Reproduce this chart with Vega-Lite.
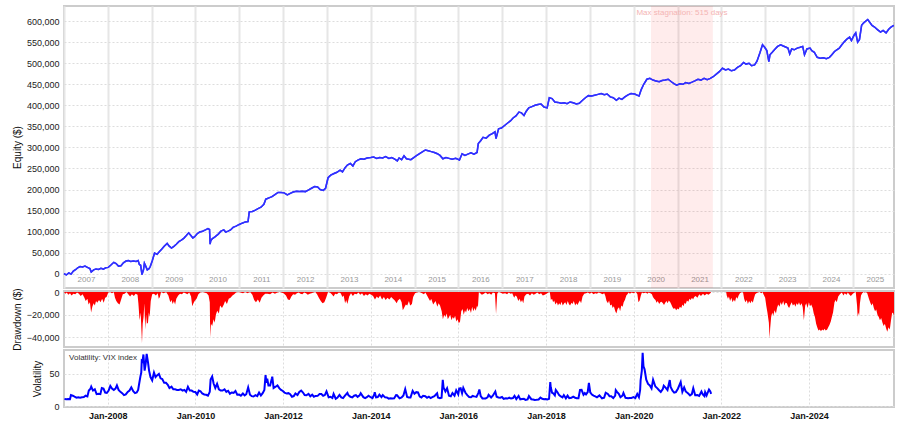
{
"$schema": "https://vega.github.io/schema/vega-lite/v6.json",
"background": "white",
"padding": {"left": 11, "top": 5, "right": 6, "bottom": 2},
"spacing": 3,
"bounds": "flush",
"config": {
  "font": "Liberation Sans",
  "view": {"stroke": "#cccccc", "strokeWidth": 2},
  "axis": {"labelFontSize": 9, "labelColor": "#222", "titleFontSize": 10, "titleFontWeight": "normal", "titleColor": "#111", "ticks": false, "domain": false, "gridColor": "#dddddd", "gridDash": [2, 2]}
},
"datasets": {
"stag": [{"start": "2020-05-25", "end": "2021-10-22", "mid": "2021-02-07", "label": "Max stagnation: 515 days"}],
"equity": [
{"d":"2007-01-01","v":0},{"d":"2007-01-20","v":-3000},{"d":"2007-02-10","v":2000},{"d":"2007-03-01","v":-1000},{"d":"2007-03-20","v":6000},{"d":"2007-04-10","v":10000},{"d":"2007-04-25","v":14000},{"d":"2007-05-15","v":17000},{"d":"2007-06-05","v":16000},{"d":"2007-06-25","v":18000},{"d":"2007-07-15","v":15000},{"d":"2007-08-05","v":12000},{"d":"2007-08-16","v":4000},{"d":"2007-09-05","v":9000},{"d":"2007-09-25","v":11000},{"d":"2007-10-15","v":10000},{"d":"2007-11-05","v":13000},{"d":"2007-11-25","v":11000},{"d":"2007-12-15","v":14000},
{"d":"2008-01-05","v":15000},{"d":"2008-01-25","v":20000},{"d":"2008-02-20","v":27000},{"d":"2008-03-10","v":24000},{"d":"2008-03-30","v":18000},{"d":"2008-04-20","v":19000},{"d":"2008-05-10","v":26000},{"d":"2008-06-01","v":30000},{"d":"2008-06-20","v":31000},{"d":"2008-07-10","v":29000},{"d":"2008-08-01","v":30000},{"d":"2008-08-25","v":29000},{"d":"2008-09-10","v":31000},{"d":"2008-09-20","v":22000},{"d":"2008-10-01","v":20000},{"d":"2008-10-12","v":-2000},{"d":"2008-10-25","v":10000},{"d":"2008-11-01","v":25000},{"d":"2008-11-12","v":18000},{"d":"2008-11-25","v":9000},{"d":"2008-12-10","v":12000},{"d":"2008-12-20","v":17000},
{"d":"2009-01-05","v":30000},{"d":"2009-01-25","v":49000},{"d":"2009-02-15","v":46000},{"d":"2009-03-05","v":52000},{"d":"2009-03-25","v":58000},{"d":"2009-04-15","v":65000},{"d":"2009-05-10","v":72000},{"d":"2009-05-25","v":66000},{"d":"2009-06-15","v":61000},{"d":"2009-07-05","v":65000},{"d":"2009-07-25","v":70000},{"d":"2009-08-15","v":76000},{"d":"2009-09-05","v":80000},{"d":"2009-09-25","v":84000},{"d":"2009-10-15","v":90000},{"d":"2009-11-05","v":97000},{"d":"2009-11-20","v":92000},{"d":"2009-12-10","v":85000},{"d":"2009-12-25","v":88000},
{"d":"2010-01-15","v":95000},{"d":"2010-02-05","v":99000},{"d":"2010-03-01","v":101000},{"d":"2010-03-25","v":104000},{"d":"2010-04-15","v":107000},{"d":"2010-04-28","v":105000},{"d":"2010-05-03","v":70000},{"d":"2010-05-08","v":78000},{"d":"2010-05-20","v":83000},{"d":"2010-06-15","v":88000},{"d":"2010-07-10","v":94000},{"d":"2010-08-01","v":101000},{"d":"2010-08-25","v":104000},{"d":"2010-09-10","v":99000},{"d":"2010-09-30","v":101000},{"d":"2010-10-20","v":104000},{"d":"2010-11-10","v":110000},{"d":"2010-12-05","v":113000},
{"d":"2011-01-01","v":117000},{"d":"2011-01-25","v":120000},{"d":"2011-02-20","v":123000},{"d":"2011-03-15","v":124000},{"d":"2011-03-25","v":147000},{"d":"2011-04-20","v":148000},{"d":"2011-05-15","v":151000},{"d":"2011-06-10","v":155000},{"d":"2011-07-01","v":158000},{"d":"2011-07-25","v":165000},{"d":"2011-08-10","v":177000},{"d":"2011-09-05","v":180000},{"d":"2011-10-01","v":183000},{"d":"2011-10-25","v":188000},{"d":"2011-11-20","v":193000},{"d":"2011-12-15","v":193000},
{"d":"2012-01-10","v":192000},{"d":"2012-02-05","v":187000},{"d":"2012-03-01","v":191000},{"d":"2012-03-25","v":194000},{"d":"2012-04-20","v":196000},{"d":"2012-05-15","v":195000},{"d":"2012-06-10","v":196000},{"d":"2012-07-05","v":195000},{"d":"2012-08-01","v":199000},{"d":"2012-08-25","v":203000},{"d":"2012-09-20","v":207000},{"d":"2012-10-15","v":206000},{"d":"2012-11-05","v":200000},{"d":"2012-12-01","v":198000},{"d":"2012-12-20","v":203000},
{"d":"2013-01-10","v":228000},{"d":"2013-02-01","v":234000},{"d":"2013-03-01","v":238000},{"d":"2013-03-25","v":241000},{"d":"2013-04-20","v":246000},{"d":"2013-05-10","v":242000},{"d":"2013-06-01","v":252000},{"d":"2013-06-20","v":258000},{"d":"2013-07-15","v":262000},{"d":"2013-08-05","v":256000},{"d":"2013-08-25","v":266000},{"d":"2013-09-15","v":270000},{"d":"2013-10-10","v":273000},{"d":"2013-11-05","v":272000},{"d":"2013-12-01","v":275000},
{"d":"2014-01-01","v":276000},{"d":"2014-01-25","v":277000},{"d":"2014-02-20","v":274000},{"d":"2014-03-15","v":276000},{"d":"2014-04-10","v":275000},{"d":"2014-05-05","v":278000},{"d":"2014-06-01","v":274000},{"d":"2014-06-25","v":276000},{"d":"2014-07-20","v":272000},{"d":"2014-08-10","v":268000},{"d":"2014-08-25","v":275000},{"d":"2014-09-15","v":271000},{"d":"2014-10-05","v":280000},{"d":"2014-10-25","v":273000},{"d":"2014-12-01","v":271000},{"d":"2014-12-25","v":276000},
{"d":"2015-01-20","v":281000},{"d":"2015-02-15","v":286000},{"d":"2015-03-10","v":290000},{"d":"2015-04-01","v":294000},{"d":"2015-04-25","v":292000},{"d":"2015-05-20","v":290000},{"d":"2015-06-15","v":288000},{"d":"2015-07-10","v":285000},{"d":"2015-08-01","v":281000},{"d":"2015-08-25","v":273000},{"d":"2015-09-20","v":276000},{"d":"2015-10-15","v":274000},{"d":"2015-11-10","v":272000},{"d":"2015-12-10","v":274000},
{"d":"2016-01-10","v":270000},{"d":"2016-02-01","v":285000},{"d":"2016-02-25","v":281000},{"d":"2016-03-20","v":284000},{"d":"2016-04-15","v":287000},{"d":"2016-05-10","v":284000},{"d":"2016-06-05","v":288000},{"d":"2016-06-15","v":309000},{"d":"2016-07-05","v":316000},{"d":"2016-07-25","v":324000},{"d":"2016-08-20","v":322000},{"d":"2016-09-15","v":329000},{"d":"2016-10-10","v":333000},{"d":"2016-11-01","v":337000},{"d":"2016-11-10","v":321000},{"d":"2016-12-01","v":344000},{"d":"2016-12-25","v":346000},
{"d":"2017-01-20","v":352000},{"d":"2017-02-15","v":358000},{"d":"2017-03-10","v":363000},{"d":"2017-04-01","v":370000},{"d":"2017-04-25","v":375000},{"d":"2017-05-20","v":384000},{"d":"2017-06-10","v":382000},{"d":"2017-07-01","v":376000},{"d":"2017-07-20","v":386000},{"d":"2017-08-10","v":394000},{"d":"2017-09-05","v":397000},{"d":"2017-10-01","v":400000},{"d":"2017-10-25","v":402000},{"d":"2017-11-20","v":403000},{"d":"2017-12-15","v":396000},
{"d":"2018-01-10","v":394000},{"d":"2018-01-28","v":418000},{"d":"2018-02-20","v":416000},{"d":"2018-03-15","v":408000},{"d":"2018-04-10","v":407000},{"d":"2018-05-05","v":405000},{"d":"2018-06-01","v":406000},{"d":"2018-06-25","v":404000},{"d":"2018-07-20","v":408000},{"d":"2018-08-15","v":406000},{"d":"2018-09-10","v":403000},{"d":"2018-10-05","v":405000},{"d":"2018-11-01","v":412000},{"d":"2018-11-25","v":418000},{"d":"2018-12-20","v":423000},
{"d":"2019-01-15","v":422000},{"d":"2019-02-10","v":424000},{"d":"2019-03-10","v":426000},{"d":"2019-04-05","v":428000},{"d":"2019-05-01","v":425000},{"d":"2019-05-25","v":427000},{"d":"2019-06-20","v":420000},{"d":"2019-07-15","v":418000},{"d":"2019-08-10","v":412000},{"d":"2019-09-01","v":417000},{"d":"2019-09-25","v":414000},{"d":"2019-10-20","v":420000},{"d":"2019-11-15","v":425000},{"d":"2019-12-10","v":428000},
{"d":"2020-01-10","v":427000},{"d":"2020-02-15","v":422000},{"d":"2020-03-05","v":438000},{"d":"2020-03-25","v":450000},{"d":"2020-04-20","v":462000},{"d":"2020-05-15","v":464000},{"d":"2020-06-10","v":460000},{"d":"2020-07-05","v":458000},{"d":"2020-08-01","v":456000},{"d":"2020-08-25","v":459000},{"d":"2020-09-20","v":460000},{"d":"2020-10-15","v":462000},{"d":"2020-11-10","v":456000},{"d":"2020-12-05","v":451000},{"d":"2020-12-25","v":448000},
{"d":"2021-01-20","v":451000},{"d":"2021-02-15","v":450000},{"d":"2021-03-10","v":454000},{"d":"2021-04-05","v":452000},{"d":"2021-05-01","v":455000},{"d":"2021-05-25","v":458000},{"d":"2021-06-20","v":462000},{"d":"2021-07-15","v":460000},{"d":"2021-08-10","v":464000},{"d":"2021-09-05","v":461000},{"d":"2021-10-01","v":464000},{"d":"2021-10-25","v":468000},{"d":"2021-11-20","v":474000},{"d":"2021-12-15","v":480000},
{"d":"2022-01-10","v":488000},{"d":"2022-02-05","v":484000},{"d":"2022-03-01","v":486000},{"d":"2022-03-25","v":482000},{"d":"2022-04-20","v":484000},{"d":"2022-05-15","v":490000},{"d":"2022-06-10","v":494000},{"d":"2022-07-05","v":502000},{"d":"2022-07-25","v":498000},{"d":"2022-08-20","v":500000},{"d":"2022-09-10","v":494000},{"d":"2022-10-05","v":496000},{"d":"2022-10-25","v":505000},{"d":"2022-11-20","v":526000},{"d":"2022-12-10","v":544000},{"d":"2022-12-28","v":538000},
{"d":"2023-01-15","v":530000},{"d":"2023-02-01","v":504000},{"d":"2023-02-10","v":520000},{"d":"2023-03-01","v":526000},{"d":"2023-03-25","v":534000},{"d":"2023-04-15","v":540000},{"d":"2023-05-10","v":544000},{"d":"2023-06-01","v":541000},{"d":"2023-06-25","v":538000},{"d":"2023-07-10","v":536000},{"d":"2023-07-25","v":522000},{"d":"2023-08-10","v":534000},{"d":"2023-09-01","v":532000},{"d":"2023-09-25","v":536000},{"d":"2023-10-20","v":538000},{"d":"2023-11-10","v":540000},{"d":"2023-11-25","v":520000},{"d":"2023-12-15","v":534000},
{"d":"2024-01-10","v":536000},{"d":"2024-01-25","v":530000},{"d":"2024-02-15","v":526000},{"d":"2024-03-10","v":514000},{"d":"2024-04-05","v":512000},{"d":"2024-05-01","v":513000},{"d":"2024-05-25","v":511000},{"d":"2024-06-20","v":514000},{"d":"2024-07-10","v":520000},{"d":"2024-08-01","v":528000},{"d":"2024-08-20","v":532000},{"d":"2024-09-10","v":536000},{"d":"2024-10-01","v":544000},{"d":"2024-10-25","v":552000},{"d":"2024-11-15","v":558000},{"d":"2024-12-05","v":562000},{"d":"2024-12-20","v":554000},
{"d":"2025-01-10","v":566000},{"d":"2025-01-25","v":572000},{"d":"2025-02-10","v":550000},{"d":"2025-02-25","v":556000},{"d":"2025-03-15","v":590000},{"d":"2025-04-01","v":596000},{"d":"2025-05-05","v":604000},{"d":"2025-05-20","v":598000},{"d":"2025-06-10","v":590000},{"d":"2025-07-01","v":586000},{"d":"2025-07-25","v":580000},{"d":"2025-08-20","v":574000},{"d":"2025-09-10","v":578000},{"d":"2025-10-05","v":572000},{"d":"2025-10-25","v":580000},{"d":"2025-11-15","v":586000},{"d":"2025-12-08","v":590000}
],
"dd": [
{"d":"2007-01-01","v":0},{"d":"2007-01-12","v":-1500},{"d":"2007-01-25","v":-500},{"d":"2007-02-05","v":-2500},{"d":"2007-02-20","v":-1000},{"d":"2007-03-05","v":-3000},{"d":"2007-03-20","v":-1500},{"d":"2007-04-05","v":-2000},{"d":"2007-04-20","v":-500},{"d":"2007-05-05","v":-1500},{"d":"2007-05-20","v":-3500},{"d":"2007-06-05","v":-2000},{"d":"2007-06-20","v":-5000},{"d":"2007-07-01","v":-8000},{"d":"2007-07-15","v":-6000},{"d":"2007-07-25","v":-11000},{"d":"2007-08-05","v":-9000},{"d":"2007-08-15","v":-18000},{"d":"2007-08-25","v":-13000},{"d":"2007-09-05","v":-10000},{"d":"2007-09-15","v":-12000},{"d":"2007-09-25","v":-8000},{"d":"2007-10-05","v":-9500},{"d":"2007-10-20","v":-7000},{"d":"2007-11-01","v":-9000},{"d":"2007-11-15","v":-6000},{"d":"2007-11-28","v":-9500},{"d":"2007-12-10","v":-5000},{"d":"2007-12-22","v":-4500},
{"d":"2008-01-05","v":-500},{"d":"2008-01-20","v":0},{"d":"2008-02-05","v":-1000},{"d":"2008-02-20","v":0},{"d":"2008-03-01","v":-5000},{"d":"2008-03-12","v":-8000},{"d":"2008-03-25","v":-10000},{"d":"2008-04-08","v":-11000},{"d":"2008-04-20","v":-7000},{"d":"2008-05-05","v":-2000},{"d":"2008-05-20","v":-1500},{"d":"2008-06-05","v":0},{"d":"2008-06-20","v":-2000},{"d":"2008-07-05","v":-4000},{"d":"2008-07-20","v":-2000},{"d":"2008-08-05","v":-3500},{"d":"2008-08-20","v":-1500},{"d":"2008-09-05","v":-2500},{"d":"2008-09-12","v":-10000},{"d":"2008-09-22","v":-25000},{"d":"2008-10-01","v":-18000},{"d":"2008-10-08","v":-35000},{"d":"2008-10-12","v":-45000},{"d":"2008-10-18","v":-28000},{"d":"2008-10-25","v":-22000},{"d":"2008-11-01","v":-10000},{"d":"2008-11-08","v":-33000},{"d":"2008-11-15","v":-20000},{"d":"2008-11-22","v":-28000},{"d":"2008-12-01","v":-27000},{"d":"2008-12-08","v":-18000},{"d":"2008-12-15","v":-22000},{"d":"2008-12-24","v":-8000},
{"d":"2009-01-05","v":-2000},{"d":"2009-01-20","v":-1500},{"d":"2009-02-05","v":-3000},{"d":"2009-02-20","v":-1000},{"d":"2009-03-01","v":-6000},{"d":"2009-03-10","v":-4500},{"d":"2009-03-20","v":0},{"d":"2009-04-10","v":-1000},{"d":"2009-05-01","v":0},{"d":"2009-05-20","v":-3000},{"d":"2009-06-05","v":-9000},{"d":"2009-06-15","v":-7000},{"d":"2009-06-25","v":-10500},{"d":"2009-07-05","v":-8000},{"d":"2009-07-15","v":-11000},{"d":"2009-07-25","v":-6000},{"d":"2009-08-10","v":-3000},{"d":"2009-08-25","v":-1500},{"d":"2009-09-10","v":-2000},{"d":"2009-09-25","v":-500},{"d":"2009-10-10","v":-1000},{"d":"2009-10-25","v":-2000},{"d":"2009-11-10","v":-500},{"d":"2009-11-25","v":-4000},{"d":"2009-12-05","v":-12500},{"d":"2009-12-15","v":-10000},{"d":"2009-12-25","v":-8000},
{"d":"2010-01-10","v":-6000},{"d":"2010-01-25","v":-2000},{"d":"2010-02-10","v":-500},{"d":"2010-02-25","v":0},{"d":"2010-03-15","v":-500},{"d":"2010-04-05","v":-1000},{"d":"2010-04-20","v":-3000},{"d":"2010-04-30","v":-9000},{"d":"2010-05-04","v":-40000},{"d":"2010-05-10","v":-28000},{"d":"2010-05-20","v":-30000},{"d":"2010-06-01","v":-24000},{"d":"2010-06-10","v":-27000},{"d":"2010-06-20","v":-20000},{"d":"2010-07-01","v":-16500},{"d":"2010-07-15","v":-19000},{"d":"2010-07-25","v":-12000},{"d":"2010-08-10","v":-14000},{"d":"2010-08-25","v":-11000},{"d":"2010-09-05","v":-8000},{"d":"2010-09-20","v":-10500},{"d":"2010-10-05","v":-6000},{"d":"2010-10-20","v":-5000},{"d":"2010-11-05","v":-3000},{"d":"2010-11-20","v":-2000},{"d":"2010-12-05","v":-500},{"d":"2010-12-20","v":0},
{"d":"2011-01-10","v":-500},{"d":"2011-02-01","v":-1000},{"d":"2011-02-20","v":0},{"d":"2011-03-10","v":-1000},{"d":"2011-04-01","v":0},{"d":"2011-04-20","v":-2500},{"d":"2011-05-05","v":-7000},{"d":"2011-05-20","v":-9000},{"d":"2011-06-05","v":-6500},{"d":"2011-06-20","v":-9500},{"d":"2011-07-05","v":-5000},{"d":"2011-07-20","v":-3000},{"d":"2011-08-05","v":-1500},{"d":"2011-08-25","v":-1500},{"d":"2011-09-15","v":-2000},{"d":"2011-10-05","v":-500},{"d":"2011-10-25","v":-1500},{"d":"2011-11-15","v":-500},{"d":"2011-12-05","v":0},
{"d":"2012-01-05","v":-1000},{"d":"2012-01-25","v":-3000},{"d":"2012-02-10","v":-6500},{"d":"2012-02-25","v":-7000},{"d":"2012-03-10","v":-4000},{"d":"2012-03-25","v":-2000},{"d":"2012-04-10","v":-2500},{"d":"2012-04-25","v":-1000},{"d":"2012-05-10","v":-500},{"d":"2012-05-25","v":-1500},{"d":"2012-06-10","v":-2000},{"d":"2012-06-25","v":-500},{"d":"2012-07-10","v":-1000},{"d":"2012-07-25","v":-2500},{"d":"2012-08-10","v":-1500},{"d":"2012-08-25","v":-1000},{"d":"2012-09-10","v":-500},{"d":"2012-09-25","v":0},{"d":"2012-10-10","v":-2000},{"d":"2012-10-25","v":-5000},{"d":"2012-11-10","v":-8000},{"d":"2012-11-25","v":-10000},{"d":"2012-12-10","v":-9000},{"d":"2012-12-25","v":-5000},
{"d":"2013-01-10","v":0},{"d":"2013-01-25","v":-500},{"d":"2013-02-10","v":-2000},{"d":"2013-02-25","v":-4000},{"d":"2013-03-10","v":-1500},{"d":"2013-03-25","v":-2000},{"d":"2013-04-10","v":-500},{"d":"2013-04-25","v":-1000},{"d":"2013-05-10","v":-4500},{"d":"2013-05-20","v":-3000},{"d":"2013-06-01","v":-10000},{"d":"2013-06-10","v":-7000},{"d":"2013-06-20","v":-10500},{"d":"2013-07-05","v":-4000},{"d":"2013-07-20","v":-1000},{"d":"2013-08-05","v":-3500},{"d":"2013-08-20","v":-1500},{"d":"2013-09-05","v":-2000},{"d":"2013-09-20","v":-500},{"d":"2013-10-05","v":-2500},{"d":"2013-10-20","v":-1000},{"d":"2013-11-05","v":-3500},{"d":"2013-11-20","v":-2000},{"d":"2013-12-05","v":-3000},{"d":"2013-12-20","v":-1500},
{"d":"2014-01-05","v":-2500},{"d":"2014-01-20","v":-3500},{"d":"2014-02-05","v":-6500},{"d":"2014-02-20","v":-4000},{"d":"2014-03-05","v":-5500},{"d":"2014-03-20","v":-3000},{"d":"2014-04-05","v":-6500},{"d":"2014-04-20","v":-4500},{"d":"2014-05-05","v":-7000},{"d":"2014-05-20","v":-5000},{"d":"2014-06-05","v":-6500},{"d":"2014-06-20","v":-4500},{"d":"2014-07-05","v":-6000},{"d":"2014-07-20","v":-7500},{"d":"2014-08-05","v":-10000},{"d":"2014-08-15","v":-7500},{"d":"2014-09-01","v":-6000},{"d":"2014-09-15","v":-9000},{"d":"2014-09-25","v":-16000},{"d":"2014-10-05","v":-14000},{"d":"2014-10-20","v":-11000},{"d":"2014-11-01","v":-12000},{"d":"2014-11-15","v":-8000},{"d":"2014-11-25","v":-12000},{"d":"2014-12-10","v":-10500},{"d":"2014-12-20","v":-4500},
{"d":"2015-01-05","v":-1000},{"d":"2015-01-20","v":-500},{"d":"2015-02-05","v":0},{"d":"2015-02-20","v":-500},{"d":"2015-03-05","v":-1000},{"d":"2015-03-20","v":-2000},{"d":"2015-04-01","v":-500},{"d":"2015-04-15","v":-3000},{"d":"2015-04-25","v":-5000},{"d":"2015-05-10","v":-8000},{"d":"2015-05-20","v":-6000},{"d":"2015-06-05","v":-11000},{"d":"2015-06-15","v":-9500},{"d":"2015-06-25","v":-8000},{"d":"2015-07-10","v":-13000},{"d":"2015-07-20","v":-10000},{"d":"2015-08-01","v":-12000},{"d":"2015-08-15","v":-17000},{"d":"2015-08-25","v":-24000},{"d":"2015-09-05","v":-20000},{"d":"2015-09-15","v":-22000},{"d":"2015-09-25","v":-19000},{"d":"2015-10-05","v":-24000},{"d":"2015-10-15","v":-22000},{"d":"2015-10-25","v":-20000},{"d":"2015-11-05","v":-25000},{"d":"2015-11-15","v":-22000},{"d":"2015-11-25","v":-23500},{"d":"2015-12-05","v":-21000},{"d":"2015-12-15","v":-26000},{"d":"2015-12-25","v":-24000},
{"d":"2016-01-05","v":-27500},{"d":"2016-01-15","v":-26000},{"d":"2016-01-25","v":-17000},{"d":"2016-02-05","v":-15000},{"d":"2016-02-15","v":-20000},{"d":"2016-02-25","v":-16000},{"d":"2016-03-05","v":-18000},{"d":"2016-03-15","v":-14000},{"d":"2016-03-25","v":-17000},{"d":"2016-04-05","v":-15000},{"d":"2016-04-15","v":-18500},{"d":"2016-04-25","v":-13000},{"d":"2016-05-05","v":-17000},{"d":"2016-05-15","v":-14000},{"d":"2016-05-25","v":-16500},{"d":"2016-06-05","v":-12000},{"d":"2016-06-12","v":-13600},{"d":"2016-06-20","v":0},{"d":"2016-07-01","v":-1000},{"d":"2016-07-15","v":-2500},{"d":"2016-08-01","v":-1500},{"d":"2016-08-15","v":-500},{"d":"2016-09-01","v":-2000},{"d":"2016-09-15","v":-1000},{"d":"2016-10-01","v":-2500},{"d":"2016-10-15","v":-500},{"d":"2016-11-01","v":-1000},{"d":"2016-11-10","v":-19400},{"d":"2016-11-20","v":-1500},{"d":"2016-12-01","v":0},{"d":"2016-12-15","v":-500},
{"d":"2017-01-05","v":-1500},{"d":"2017-01-25","v":-1000},{"d":"2017-02-10","v":-2000},{"d":"2017-02-25","v":-500},{"d":"2017-03-10","v":-1500},{"d":"2017-03-25","v":-1000},{"d":"2017-04-10","v":-5000},{"d":"2017-04-20","v":-3000},{"d":"2017-05-01","v":-4000},{"d":"2017-05-15","v":-8000},{"d":"2017-05-25","v":-6000},{"d":"2017-06-05","v":-9000},{"d":"2017-06-15","v":-7000},{"d":"2017-06-25","v":-10000},{"d":"2017-07-05","v":-4000},{"d":"2017-07-20","v":-2000},{"d":"2017-08-05","v":-1500},{"d":"2017-08-20","v":-3000},{"d":"2017-09-05","v":-1000},{"d":"2017-09-20","v":-2500},{"d":"2017-10-05","v":-1500},{"d":"2017-10-20","v":-500},{"d":"2017-11-05","v":-2000},{"d":"2017-11-20","v":-1000},{"d":"2017-12-05","v":-3000},{"d":"2017-12-20","v":-2500},
{"d":"2018-01-05","v":-1500},{"d":"2018-01-20","v":-500},{"d":"2018-02-01","v":0},{"d":"2018-02-10","v":-7000},{"d":"2018-02-20","v":-6000},{"d":"2018-03-01","v":-9000},{"d":"2018-03-10","v":-7500},{"d":"2018-03-20","v":-11000},{"d":"2018-04-01","v":-9000},{"d":"2018-04-10","v":-12000},{"d":"2018-04-20","v":-10000},{"d":"2018-05-01","v":-11500},{"d":"2018-05-10","v":-8500},{"d":"2018-05-20","v":-12000},{"d":"2018-06-01","v":-10000},{"d":"2018-06-10","v":-9000},{"d":"2018-06-20","v":-11500},{"d":"2018-07-01","v":-8000},{"d":"2018-07-10","v":-10500},{"d":"2018-07-20","v":-12000},{"d":"2018-08-01","v":-9500},{"d":"2018-08-10","v":-10500},{"d":"2018-08-20","v":-8000},{"d":"2018-09-01","v":-12000},{"d":"2018-09-10","v":-10000},{"d":"2018-09-20","v":-11500},{"d":"2018-10-01","v":-9000},{"d":"2018-10-10","v":-7500},{"d":"2018-10-20","v":-10000},{"d":"2018-11-01","v":-4000},{"d":"2018-11-15","v":-1500},{"d":"2018-12-01","v":-1000},{"d":"2018-12-15","v":-500},
{"d":"2019-01-01","v":-1500},{"d":"2019-01-15","v":-500},{"d":"2019-02-01","v":-2000},{"d":"2019-02-15","v":-1000},{"d":"2019-03-01","v":-1500},{"d":"2019-03-15","v":-500},{"d":"2019-04-01","v":-1000},{"d":"2019-04-15","v":-2000},{"d":"2019-05-01","v":-1000},{"d":"2019-05-10","v":-3500},{"d":"2019-05-20","v":-8000},{"d":"2019-06-01","v":-10000},{"d":"2019-06-10","v":-7500},{"d":"2019-06-20","v":-12000},{"d":"2019-07-01","v":-11000},{"d":"2019-07-10","v":-14000},{"d":"2019-07-20","v":-12500},{"d":"2019-08-01","v":-17000},{"d":"2019-08-10","v":-19000},{"d":"2019-08-20","v":-15000},{"d":"2019-09-01","v":-13500},{"d":"2019-09-10","v":-17000},{"d":"2019-09-20","v":-12000},{"d":"2019-10-01","v":-13000},{"d":"2019-10-10","v":-9000},{"d":"2019-10-20","v":-7000},{"d":"2019-11-01","v":-3000},{"d":"2019-11-10","v":-2000},{"d":"2019-11-20","v":-500},{"d":"2019-12-01","v":-1500},{"d":"2019-12-15","v":-500},
{"d":"2020-01-01","v":-1000},{"d":"2020-01-10","v":-500},{"d":"2020-01-20","v":0},{"d":"2020-02-01","v":-2000},{"d":"2020-02-10","v":-9000},{"d":"2020-02-20","v":-7500},{"d":"2020-03-01","v":-3000},{"d":"2020-03-10","v":-500},{"d":"2020-03-25","v":-1000},{"d":"2020-04-10","v":-500},{"d":"2020-04-25","v":-1500},{"d":"2020-05-05","v":-500},{"d":"2020-05-20","v":-1000},{"d":"2020-06-01","v":-2000},{"d":"2020-06-10","v":-4500},{"d":"2020-06-20","v":-6000},{"d":"2020-07-01","v":-7000},{"d":"2020-07-10","v":-9500},{"d":"2020-07-20","v":-8000},{"d":"2020-08-01","v":-10500},{"d":"2020-08-10","v":-9000},{"d":"2020-08-20","v":-8500},{"d":"2020-09-01","v":-10000},{"d":"2020-09-10","v":-11500},{"d":"2020-09-20","v":-9500},{"d":"2020-10-01","v":-8000},{"d":"2020-10-10","v":-10000},{"d":"2020-10-20","v":-7500},{"d":"2020-11-01","v":-9000},{"d":"2020-11-10","v":-11000},{"d":"2020-11-20","v":-13500},{"d":"2020-12-01","v":-15000},{"d":"2020-12-10","v":-14000},{"d":"2020-12-20","v":-16000},
{"d":"2021-01-01","v":-14500},{"d":"2021-01-10","v":-15500},{"d":"2021-01-20","v":-13000},{"d":"2021-02-01","v":-14000},{"d":"2021-02-10","v":-11000},{"d":"2021-02-20","v":-12500},{"d":"2021-03-01","v":-9500},{"d":"2021-03-10","v":-10500},{"d":"2021-03-20","v":-7500},{"d":"2021-04-01","v":-8500},{"d":"2021-04-10","v":-6000},{"d":"2021-04-20","v":-7000},{"d":"2021-05-01","v":-5000},{"d":"2021-05-10","v":-6500},{"d":"2021-05-20","v":-4500},{"d":"2021-06-01","v":-3500},{"d":"2021-06-15","v":-5000},{"d":"2021-07-01","v":-2000},{"d":"2021-07-15","v":-3500},{"d":"2021-08-01","v":-1500},{"d":"2021-08-15","v":-3000},{"d":"2021-09-01","v":-1500},{"d":"2021-09-15","v":-2500},{"d":"2021-10-01","v":-1000},{"d":"2021-10-08","v":0},{"d":"2021-12-01","v":0},{"d":"2022-02-10","v":0},
{"d":"2022-02-15","v":-3000},{"d":"2022-02-25","v":-6000},{"d":"2022-03-05","v":-4000},{"d":"2022-03-15","v":-8000},{"d":"2022-03-25","v":-5000},{"d":"2022-04-05","v":-9000},{"d":"2022-04-15","v":-6500},{"d":"2022-04-25","v":-8500},{"d":"2022-05-05","v":-4500},{"d":"2022-05-15","v":-6000},{"d":"2022-05-25","v":-3000},{"d":"2022-06-05","v":-1000},{"d":"2022-06-20","v":0},{"d":"2022-07-01","v":-500},{"d":"2022-07-10","v":-6000},{"d":"2022-07-20","v":-9000},{"d":"2022-08-01","v":-7000},{"d":"2022-08-10","v":-10500},{"d":"2022-08-20","v":-8000},{"d":"2022-09-01","v":-10000},{"d":"2022-09-10","v":-7500},{"d":"2022-09-20","v":-9500},{"d":"2022-10-01","v":-5000},{"d":"2022-10-10","v":-2000},{"d":"2022-10-20","v":-1000},{"d":"2022-11-01","v":-500},{"d":"2022-11-15","v":0},{"d":"2022-12-01","v":-1000},{"d":"2022-12-10","v":0},{"d":"2022-12-20","v":-2500},
{"d":"2023-01-01","v":-5000},{"d":"2023-01-10","v":-12000},{"d":"2023-01-20","v":-18000},{"d":"2023-02-01","v":-27000},{"d":"2023-02-07","v":-41000},{"d":"2023-02-12","v":-32000},{"d":"2023-02-20","v":-22000},{"d":"2023-03-01","v":-18000},{"d":"2023-03-10","v":-21000},{"d":"2023-03-20","v":-16000},{"d":"2023-04-01","v":-19000},{"d":"2023-04-10","v":-14000},{"d":"2023-04-20","v":-11000},{"d":"2023-05-01","v":-13000},{"d":"2023-05-10","v":-9000},{"d":"2023-05-20","v":-11500},{"d":"2023-06-01","v":-8000},{"d":"2023-06-10","v":-12000},{"d":"2023-06-20","v":-9500},{"d":"2023-07-01","v":-10000},{"d":"2023-07-10","v":-12500},{"d":"2023-07-20","v":-14000},{"d":"2023-08-01","v":-11000},{"d":"2023-08-10","v":-9000},{"d":"2023-08-20","v":-12000},{"d":"2023-09-01","v":-10500},{"d":"2023-09-10","v":-13000},{"d":"2023-09-20","v":-10000},{"d":"2023-10-01","v":-11500},{"d":"2023-10-10","v":-9000},{"d":"2023-10-20","v":-12000},{"d":"2023-11-01","v":-10000},{"d":"2023-11-10","v":-13500},{"d":"2023-11-20","v":-25000},{"d":"2023-12-01","v":-12000},{"d":"2023-12-10","v":-10000},{"d":"2023-12-20","v":-14000},
{"d":"2024-01-01","v":-9000},{"d":"2024-01-10","v":-12500},{"d":"2024-01-20","v":-11000},{"d":"2024-02-01","v":-14000},{"d":"2024-02-10","v":-19000},{"d":"2024-02-20","v":-22000},{"d":"2024-03-01","v":-28000},{"d":"2024-03-10","v":-31000},{"d":"2024-03-20","v":-34000},{"d":"2024-04-01","v":-33000},{"d":"2024-04-10","v":-34500},{"d":"2024-04-20","v":-33000},{"d":"2024-05-01","v":-34000},{"d":"2024-05-10","v":-32500},{"d":"2024-05-20","v":-34000},{"d":"2024-06-01","v":-33000},{"d":"2024-06-10","v":-31000},{"d":"2024-06-20","v":-29000},{"d":"2024-07-01","v":-26000},{"d":"2024-07-10","v":-22000},{"d":"2024-07-20","v":-18000},{"d":"2024-08-01","v":-9000},{"d":"2024-08-10","v":-7000},{"d":"2024-08-20","v":-9000},{"d":"2024-09-01","v":-4000},{"d":"2024-09-15","v":-2000},{"d":"2024-10-01","v":-500},{"d":"2024-10-15","v":-3000},{"d":"2024-10-25","v":-1000},{"d":"2024-11-10","v":-2500},{"d":"2024-11-20","v":-500},{"d":"2024-12-01","v":-2000},{"d":"2024-12-15","v":-3500},
{"d":"2025-01-01","v":-1500},{"d":"2025-01-15","v":-500},{"d":"2025-01-25","v":0},{"d":"2025-02-05","v":-12000},{"d":"2025-02-10","v":-22000},{"d":"2025-02-15","v":-18000},{"d":"2025-02-22","v":-21000},{"d":"2025-03-01","v":-10000},{"d":"2025-03-10","v":-3000},{"d":"2025-03-20","v":-1000},{"d":"2025-04-01","v":0},{"d":"2025-04-10","v":-500},{"d":"2025-04-20","v":0},{"d":"2025-05-01","v":-1000},{"d":"2025-05-15","v":-6000},{"d":"2025-05-25","v":-9000},{"d":"2025-06-05","v":-12000},{"d":"2025-06-15","v":-10000},{"d":"2025-06-25","v":-14000},{"d":"2025-07-05","v":-17000},{"d":"2025-07-15","v":-15500},{"d":"2025-07-25","v":-20000},{"d":"2025-08-05","v":-22000},{"d":"2025-08-15","v":-25000},{"d":"2025-08-25","v":-23000},{"d":"2025-09-05","v":-27000},{"d":"2025-09-15","v":-30000},{"d":"2025-09-25","v":-28000},{"d":"2025-10-05","v":-32000},{"d":"2025-10-15","v":-35000},{"d":"2025-10-25","v":-31000},{"d":"2025-11-05","v":-33000},{"d":"2025-11-15","v":-25000},{"d":"2025-11-25","v":-18000},{"d":"2025-12-05","v":-19000},{"d":"2025-12-10","v":-21000}
],
"vix": [
{"d":"2007-01-05","v":11},{"d":"2007-01-20","v":10.5},{"d":"2007-02-05","v":10.8},{"d":"2007-02-20","v":10.5},{"d":"2007-02-28","v":17},{"d":"2007-03-15","v":16},{"d":"2007-03-30","v":14.5},{"d":"2007-04-15","v":13},{"d":"2007-04-30","v":13.5},{"d":"2007-05-15","v":13},{"d":"2007-05-31","v":13.5},{"d":"2007-06-15","v":14},{"d":"2007-06-30","v":16},{"d":"2007-07-15","v":15},{"d":"2007-07-27","v":24},{"d":"2007-08-10","v":27},{"d":"2007-08-16","v":30},{"d":"2007-08-31","v":24},{"d":"2007-09-15","v":26},{"d":"2007-09-30","v":18.5},{"d":"2007-10-15","v":19},{"d":"2007-10-31","v":18.5},{"d":"2007-11-12","v":28},{"d":"2007-11-26","v":27},{"d":"2007-12-10","v":21},{"d":"2007-12-24","v":20.5},
{"d":"2008-01-08","v":24},{"d":"2008-01-22","v":31},{"d":"2008-02-05","v":27},{"d":"2008-02-20","v":25},{"d":"2008-03-05","v":27},{"d":"2008-03-17","v":32},{"d":"2008-03-31","v":25},{"d":"2008-04-15","v":22},{"d":"2008-04-30","v":20},{"d":"2008-05-15","v":17},{"d":"2008-05-30","v":18},{"d":"2008-06-15","v":22},{"d":"2008-06-30","v":24},{"d":"2008-07-15","v":29},{"d":"2008-07-31","v":23},{"d":"2008-08-15","v":20},{"d":"2008-08-29","v":21},{"d":"2008-09-10","v":25},{"d":"2008-09-17","v":33},{"d":"2008-09-29","v":46},{"d":"2008-10-06","v":52},{"d":"2008-10-10","v":70},{"d":"2008-10-16","v":69},{"d":"2008-10-24","v":80},{"d":"2008-11-03","v":55},{"d":"2008-11-12","v":66},{"d":"2008-11-20","v":81},{"d":"2008-12-01","v":68},{"d":"2008-12-10","v":55},{"d":"2008-12-22","v":45},
{"d":"2009-01-05","v":40},{"d":"2009-01-20","v":52},{"d":"2009-02-02","v":45},{"d":"2009-02-17","v":48},{"d":"2009-03-02","v":50},{"d":"2009-03-16","v":43},{"d":"2009-03-30","v":42},{"d":"2009-04-15","v":36},{"d":"2009-04-30","v":36},{"d":"2009-05-15","v":33},{"d":"2009-05-29","v":28},{"d":"2009-06-15","v":30},{"d":"2009-06-30","v":26},{"d":"2009-07-15","v":26},{"d":"2009-07-31","v":25},{"d":"2009-08-14","v":25},{"d":"2009-08-31","v":26},{"d":"2009-09-15","v":24},{"d":"2009-09-30","v":25},{"d":"2009-10-15","v":22},{"d":"2009-10-30","v":30},{"d":"2009-11-15","v":24},{"d":"2009-11-30","v":24},{"d":"2009-12-15","v":22},{"d":"2009-12-31","v":21.7},
{"d":"2010-01-15","v":18},{"d":"2010-01-29","v":24},{"d":"2010-02-12","v":23},{"d":"2010-02-26","v":19.5},{"d":"2010-03-15","v":18},{"d":"2010-03-31","v":17.5},{"d":"2010-04-15","v":16},{"d":"2010-04-30","v":22},{"d":"2010-05-07","v":41},{"d":"2010-05-20","v":45.8},{"d":"2010-06-01","v":35},{"d":"2010-06-15","v":28},{"d":"2010-06-30","v":34.5},{"d":"2010-07-15","v":26},{"d":"2010-07-30","v":24},{"d":"2010-08-15","v":24},{"d":"2010-08-31","v":26},{"d":"2010-09-15","v":22},{"d":"2010-09-30","v":23.7},{"d":"2010-10-15","v":19},{"d":"2010-10-29","v":21},{"d":"2010-11-15","v":20.5},{"d":"2010-11-30","v":23.5},{"d":"2010-12-15","v":17.5},{"d":"2010-12-31","v":17.7},
{"d":"2011-01-14","v":16},{"d":"2011-01-31","v":19.5},{"d":"2011-02-15","v":16.4},{"d":"2011-02-28","v":18.3},{"d":"2011-03-16","v":29},{"d":"2011-03-31","v":17.7},{"d":"2011-04-15","v":15.3},{"d":"2011-04-29","v":14.8},{"d":"2011-05-16","v":17},{"d":"2011-05-31","v":15.5},{"d":"2011-06-15","v":21},{"d":"2011-06-30","v":16.5},{"d":"2011-07-15","v":20},{"d":"2011-07-29","v":25},{"d":"2011-08-08","v":48},{"d":"2011-08-15","v":36},{"d":"2011-08-22","v":42.4},{"d":"2011-09-01","v":32},{"d":"2011-09-15","v":32},{"d":"2011-09-30","v":43},{"d":"2011-10-03","v":45.5},{"d":"2011-10-14","v":28},{"d":"2011-10-31","v":30},{"d":"2011-11-15","v":32},{"d":"2011-11-30","v":27.8},{"d":"2011-12-15","v":25},{"d":"2011-12-30","v":23.4},
{"d":"2012-01-13","v":20.9},{"d":"2012-01-31","v":19.4},{"d":"2012-02-15","v":20},{"d":"2012-02-29","v":18.4},{"d":"2012-03-15","v":14.5},{"d":"2012-03-30","v":15.5},{"d":"2012-04-13","v":19.5},{"d":"2012-04-30","v":17},{"d":"2012-05-15","v":21.9},{"d":"2012-05-31","v":24},{"d":"2012-06-15","v":21},{"d":"2012-06-29","v":17},{"d":"2012-07-13","v":16.7},{"d":"2012-07-31","v":18.9},{"d":"2012-08-15","v":15},{"d":"2012-08-31","v":17.5},{"d":"2012-09-14","v":14.5},{"d":"2012-09-28","v":15.7},{"d":"2012-10-15","v":15.8},{"d":"2012-10-31","v":18.6},{"d":"2012-11-15","v":18.6},{"d":"2012-11-30","v":16},{"d":"2012-12-14","v":17},{"d":"2012-12-28","v":22.7},
{"d":"2013-01-15","v":13.6},{"d":"2013-01-31","v":14.3},{"d":"2013-02-15","v":12.5},{"d":"2013-02-25","v":18.9},{"d":"2013-03-15","v":11.3},{"d":"2013-03-28","v":12.7},{"d":"2013-04-15","v":17.3},{"d":"2013-04-30","v":13.5},{"d":"2013-05-15","v":12.3},{"d":"2013-05-31","v":16.3},{"d":"2013-06-20","v":20.5},{"d":"2013-06-28","v":16.9},{"d":"2013-07-15","v":14.4},{"d":"2013-07-31","v":13.4},{"d":"2013-08-15","v":16},{"d":"2013-08-30","v":17},{"d":"2013-09-13","v":14.2},{"d":"2013-09-30","v":16.6},{"d":"2013-10-09","v":20},{"d":"2013-10-31","v":13.8},{"d":"2013-11-15","v":12.2},{"d":"2013-11-29","v":13.7},{"d":"2013-12-13","v":16},{"d":"2013-12-31","v":13.7},
{"d":"2014-01-15","v":12.3},{"d":"2014-01-31","v":18.4},{"d":"2014-02-03","v":21.4},{"d":"2014-02-14","v":13.6},{"d":"2014-02-28","v":14},{"d":"2014-03-14","v":17.8},{"d":"2014-03-31","v":13.9},{"d":"2014-04-11","v":17},{"d":"2014-04-30","v":13.4},{"d":"2014-05-15","v":13.2},{"d":"2014-05-30","v":11.4},{"d":"2014-06-13","v":12.2},{"d":"2014-06-30","v":11.6},{"d":"2014-07-15","v":11.9},{"d":"2014-07-31","v":17},{"d":"2014-08-08","v":16.7},{"d":"2014-08-29","v":12},{"d":"2014-09-15","v":13.3},{"d":"2014-09-30","v":16.3},{"d":"2014-10-15","v":26.3},{"d":"2014-10-31","v":14},{"d":"2014-11-14","v":13.3},{"d":"2014-11-28","v":13.3},{"d":"2014-12-16","v":23.6},{"d":"2014-12-31","v":19.2},
{"d":"2015-01-15","v":21.5},{"d":"2015-01-30","v":21},{"d":"2015-02-13","v":14.7},{"d":"2015-02-27","v":13.3},{"d":"2015-03-13","v":16},{"d":"2015-03-31","v":15.3},{"d":"2015-04-15","v":12.8},{"d":"2015-04-30","v":14.6},{"d":"2015-05-15","v":12.4},{"d":"2015-05-29","v":13.8},{"d":"2015-06-15","v":15.4},{"d":"2015-06-30","v":18.2},{"d":"2015-07-08","v":19.7},{"d":"2015-07-15","v":13.2},{"d":"2015-07-31","v":12.1},{"d":"2015-08-14","v":12.8},{"d":"2015-08-24","v":40.7},{"d":"2015-08-31","v":28.4},{"d":"2015-09-15","v":22.5},{"d":"2015-09-29","v":27.6},{"d":"2015-10-15","v":16.1},{"d":"2015-10-30","v":15.1},{"d":"2015-11-13","v":20.1},{"d":"2015-11-30","v":16.1},{"d":"2015-12-14","v":24.4},{"d":"2015-12-31","v":18.2},
{"d":"2016-01-08","v":27},{"d":"2016-01-20","v":27.6},{"d":"2016-02-01","v":19.9},{"d":"2016-02-11","v":28.1},{"d":"2016-02-29","v":20.6},{"d":"2016-03-15","v":16.8},{"d":"2016-03-31","v":13.9},{"d":"2016-04-15","v":13.6},{"d":"2016-04-29","v":15.7},{"d":"2016-05-13","v":15},{"d":"2016-05-31","v":14.2},{"d":"2016-06-15","v":20.1},{"d":"2016-06-24","v":25.8},{"d":"2016-07-05","v":15.6},{"d":"2016-07-20","v":11.8},{"d":"2016-08-15","v":11.8},{"d":"2016-08-31","v":13.4},{"d":"2016-09-09","v":17.5},{"d":"2016-09-30","v":13.3},{"d":"2016-10-14","v":16.1},{"d":"2016-11-04","v":22.5},{"d":"2016-11-15","v":14.5},{"d":"2016-11-30","v":13.3},{"d":"2016-12-15","v":12.8},{"d":"2016-12-30","v":14},
{"d":"2017-01-13","v":11.2},{"d":"2017-01-31","v":11.9},{"d":"2017-02-15","v":11.6},{"d":"2017-02-28","v":12.9},{"d":"2017-03-15","v":11.6},{"d":"2017-03-31","v":12.4},{"d":"2017-04-13","v":15.9},{"d":"2017-04-28","v":10.8},{"d":"2017-05-17","v":15.6},{"d":"2017-05-31","v":10.4},{"d":"2017-06-15","v":10.9},{"d":"2017-06-30","v":11.2},{"d":"2017-07-14","v":9.5},{"d":"2017-07-31","v":10.3},{"d":"2017-08-11","v":15.5},{"d":"2017-08-31","v":10.6},{"d":"2017-09-15","v":10.2},{"d":"2017-09-29","v":9.5},{"d":"2017-10-13","v":9.6},{"d":"2017-10-31","v":10.2},{"d":"2017-11-15","v":13.1},{"d":"2017-11-30","v":11.3},{"d":"2017-12-15","v":10.5},{"d":"2017-12-29","v":11},
{"d":"2018-01-12","v":10.2},{"d":"2018-01-26","v":11.1},{"d":"2018-02-05","v":37.3},{"d":"2018-02-09","v":29},{"d":"2018-02-20","v":20.6},{"d":"2018-03-02","v":19.6},{"d":"2018-03-15","v":16.6},{"d":"2018-03-23","v":24.9},{"d":"2018-04-06","v":21.5},{"d":"2018-04-20","v":16.9},{"d":"2018-05-04","v":14.8},{"d":"2018-05-18","v":13.4},{"d":"2018-05-29","v":17},{"d":"2018-06-15","v":12},{"d":"2018-06-29","v":16.1},{"d":"2018-07-13","v":12.2},{"d":"2018-07-31","v":12.8},{"d":"2018-08-15","v":14.6},{"d":"2018-08-31","v":12.9},{"d":"2018-09-14","v":12.1},{"d":"2018-09-28","v":12.1},{"d":"2018-10-11","v":24.9},{"d":"2018-10-24","v":25.2},{"d":"2018-11-09","v":17.4},{"d":"2018-11-20","v":20.1},{"d":"2018-11-30","v":18.1},{"d":"2018-12-14","v":21.6},{"d":"2018-12-24","v":36.1},
{"d":"2019-01-04","v":21.4},{"d":"2019-01-18","v":17.8},{"d":"2019-02-01","v":16.1},{"d":"2019-02-15","v":14.9},{"d":"2019-03-01","v":13.6},{"d":"2019-03-22","v":16.5},{"d":"2019-04-12","v":12},{"d":"2019-04-30","v":13.1},{"d":"2019-05-13","v":20.6},{"d":"2019-05-31","v":18.7},{"d":"2019-06-14","v":15.3},{"d":"2019-06-28","v":15.1},{"d":"2019-07-15","v":12.4},{"d":"2019-07-31","v":16.1},{"d":"2019-08-05","v":24.6},{"d":"2019-08-15","v":22},{"d":"2019-08-30","v":19},{"d":"2019-09-13","v":13.7},{"d":"2019-09-30","v":16.2},{"d":"2019-10-08","v":20.3},{"d":"2019-10-25","v":12.7},{"d":"2019-11-15","v":12},{"d":"2019-11-29","v":12.6},{"d":"2019-12-13","v":12.6},{"d":"2019-12-31","v":13.8},
{"d":"2020-01-15","v":12.4},{"d":"2020-01-31","v":18.8},{"d":"2020-02-14","v":13.7},{"d":"2020-02-24","v":25},{"d":"2020-02-28","v":40},{"d":"2020-03-09","v":54.5},{"d":"2020-03-16","v":82.7},{"d":"2020-03-23","v":61.6},{"d":"2020-04-01","v":57},{"d":"2020-04-15","v":40.8},{"d":"2020-04-30","v":34.2},{"d":"2020-05-15","v":31.9},{"d":"2020-05-29","v":27.5},{"d":"2020-06-11","v":40.8},{"d":"2020-06-30","v":30.4},{"d":"2020-07-15","v":27.8},{"d":"2020-07-31","v":24.5},{"d":"2020-08-14","v":22},{"d":"2020-08-31","v":26.4},{"d":"2020-09-08","v":31.5},{"d":"2020-09-23","v":28.6},{"d":"2020-10-09","v":25},{"d":"2020-10-28","v":40.3},{"d":"2020-11-04","v":29.6},{"d":"2020-11-20","v":23.7},{"d":"2020-12-04","v":20.8},{"d":"2020-12-18","v":21.6},
{"d":"2021-01-04","v":26.9},{"d":"2021-01-27","v":37.2},{"d":"2021-02-10","v":21.9},{"d":"2021-02-25","v":28.9},{"d":"2021-03-10","v":22.6},{"d":"2021-03-31","v":19.4},{"d":"2021-04-15","v":16.6},{"d":"2021-04-30","v":18.6},{"d":"2021-05-12","v":27.6},{"d":"2021-05-28","v":16.8},{"d":"2021-06-15","v":17},{"d":"2021-06-30","v":15.8},{"d":"2021-07-19","v":22.5},{"d":"2021-07-30","v":18.2},{"d":"2021-08-13","v":15.5},{"d":"2021-08-19","v":21.6},{"d":"2021-08-31","v":16.5},{"d":"2021-09-20","v":25.7},{"d":"2021-09-30","v":23.1},{"d":"2021-10-08","v":19}
]
},
"vconcat": [
{
  "width": 830, "height": 282,
  "resolve": {"axis": {"x": "independent", "y": "independent"}},
  "layer": [
    {"data": {"name": "equity"}, "mark": {"type": "line", "color": "#3030ff", "strokeWidth": 1.5},
     "encoding": {
       "x": {"field": "d", "type": "temporal", "scale": {"domain": ["2007-01-01", "2025-12-10"], "nice": false},
             "axis": {"title": null, "format": "%Y", "tickCount": {"interval": "year", "step": 1}, "labelOffset": 22, "labelPadding": -13, "labelColor": "#999999", "labelFontSize": 8, "labelFlush": false, "labelOverlap": false, "labelBound": false, "grid": true, "gridDash": [], "gridColor": "#e6e6e6", "gridWidth": 2}},
       "y": {"field": "v", "type": "quantitative", "scale": {"domain": [-34000, 636000], "nice": false, "zero": false},
             "axis": {"title": "Equity ($)", "values": [0,50000,100000,150000,200000,250000,300000,350000,400000,450000,500000,550000,600000], "format": ",.0f", "labelPadding": 5, "titlePadding": 4}}
     }},
    {"data": {"name": "stag"}, "mark": {"type": "rect", "color": "#ff2a2a", "opacity": 0.09},
     "encoding": {"x": {"field": "start", "type": "temporal", "axis": null}, "x2": {"field": "end"}}},
    {"data": {"name": "stag"}, "mark": {"type": "text", "color": "#f4b4b4", "fontSize": 8, "baseline": "middle", "align": "center"},
     "encoding": {"x": {"field": "mid", "type": "temporal", "axis": null}, "y": {"datum": 619000, "axis": null}, "text": {"field": "label"}}},
    {"data": {"name": "equity"}, "mark": {"type": "line", "color": "#3030ff", "strokeWidth": 1.5},
     "encoding": {"x": {"field": "d", "type": "temporal", "axis": null}, "y": {"field": "v", "type": "quantitative", "axis": null}}}
  ]
},
{
  "width": 830, "height": 56,
  "data": {"name": "dd"},
  "mark": {"type": "area", "color": "#ff0000"},
  "encoding": {
    "x": {"field": "d", "type": "temporal", "scale": {"domain": ["2007-01-01", "2025-12-10"], "nice": false},
          "axis": {"title": null, "labels": false, "values": [{"year": 2008}, {"year": 2010}, {"year": 2012}, {"year": 2014}, {"year": 2016}, {"year": 2018}, {"year": 2020}, {"year": 2022}, {"year": 2024}], "grid": true}},
    "y": {"field": "v", "type": "quantitative", "scale": {"domain": [-48500, 900], "nice": false},
          "axis": {"title": "Drawdown ($)", "values": [0, -20000, -40000], "format": ",.0f", "labelPadding": 5, "titlePadding": 4}}
  }
},
{
  "width": 830, "height": 57,
  "resolve": {"axis": {"x": "independent", "y": "independent"}},
  "layer": [
    {"data": {"name": "vix"}, "mark": {"type": "line", "color": "#0000ff", "strokeWidth": 2},
     "encoding": {
       "x": {"field": "d", "type": "temporal", "scale": {"domain": ["2007-01-01", "2025-12-10"], "nice": false},
             "axis": {"title": null, "format": "%b-%Y", "values": [{"year": 2008}, {"year": 2010}, {"year": 2012}, {"year": 2014}, {"year": 2016}, {"year": 2018}, {"year": 2020}, {"year": 2022}, {"year": 2024}], "labelFontWeight": "bold", "labelFontSize": 9, "labelColor": "#111", "labelPadding": 4, "grid": true}},
       "y": {"field": "v", "type": "quantitative", "scale": {"domain": [-1.5, 87], "nice": false, "zero": false},
             "axis": {"title": "Volatility", "values": [0, 50], "labelPadding": 5, "titlePadding": 6}}
     }},
    {"data": {"values": [{}]}, "mark": {"type": "text", "align": "left", "baseline": "middle", "fontSize": 8, "color": "#333333"},
     "encoding": {"x": {"datum": {"year": 2007, "month": 2, "date": 12}, "type": "temporal", "axis": null}, "y": {"datum": 75, "axis": null}, "text": {"value": "Volatility: VIX index"}}}
  ]
}
]
}
